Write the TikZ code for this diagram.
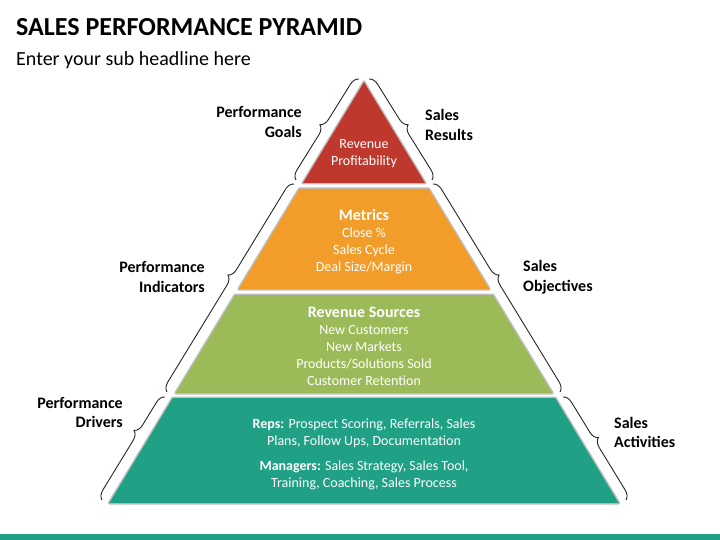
\documentclass[tikz,border=0pt]{standalone}
\usepackage{fontspec}
\setmainfont{Carlito}
\usetikzlibrary{decorations.pathreplacing}
\definecolor{pred}{RGB}{190,56,46}
\definecolor{porange}{RGB}{242,157,42}
\definecolor{pgreen}{RGB}{155,187,89}
\definecolor{pteal}{RGB}{32,161,134}
\begin{document}
\begin{tikzpicture}[x=1pt,y=-1pt,
  layer/.style={preaction={draw=black!25,line width=3pt,line join=round}},
  brc/.style={decorate,decoration={brace,amplitude=9pt,aspect=#1},draw=black!85,line width=0.9pt},
  brc/.default=0.5,
  side/.style={font=\fontsize{16}{19.5}\selectfont\bfseries,inner sep=0pt},
  inner/.style={text=white,align=center,font=\fontsize{14}{17}\selectfont,inner sep=0pt}]
\useasboundingbox (0,0) rectangle (720,540);
% title
\node[anchor=base west,inner sep=0pt,font=\fontsize{26}{30}\selectfont\bfseries] (title) at (16,36) {SALES PERFORMANCE PYRAMID};
\node[anchor=base west,inner sep=0pt,font=\fontsize{20}{24}\selectfont] (sub) at (16,66) {Enter your sub headline here};
% layers
\fill[pred,layer] (364,82) -- (425.1,183) -- (302.9,183) -- cycle;
\fill[porange,layer] (299.3,189) -- (428.7,189) -- (489.2,289) -- (238.8,289) -- cycle;
\fill[pgreen,layer] (235.1,295) -- (492.9,295) -- (552.2,393) -- (175.8,393) -- cycle;
\fill[pteal,layer] (172.8,398) -- (555.2,398) -- (618.7,503) -- (109.3,503) -- cycle;
% layer texts
\node[inner] (t1) at (364,153.5) {Revenue\\Profitability};
\node[inner] (t2) at (364,242) {{\fontsize{16}{17}\selectfont\bfseries Metrics}\\Close \%\\Sales Cycle\\Deal Size/Margin};
\node[inner] (t3) at (364,346) {{\fontsize{16}{17}\selectfont\bfseries Revenue Sources}\\New Customers\\New Markets\\Products/Solutions Sold\\Customer Retention};
\node[inner] (t4) at (364,454.5) {\textbf{Reps:} Prospect Scoring, Referrals, Sales\\Plans, Follow Ups, Documentation\\[8pt]\textbf{Managers:} Sales Strategy, Sales Tool,\\Training, Coaching, Sales Process};
% brace coordinates
\coordinate (l1a) at (296,180); \coordinate (l1b) at (359,79);
\coordinate (r1a) at (369,79); \coordinate (r1b) at (432,180);
\coordinate (l2a) at (167,392); \coordinate (l2b) at (294,184);
\coordinate (r2a) at (433,184); \coordinate (r2b) at (560,392);
\coordinate (l3a) at (102,500); \coordinate (l3b) at (165,397);
\coordinate (r3a) at (563,397); \coordinate (r3b) at (626,500);
\draw[brc=0.5] (l1a) -- (l1b);
\draw[brc=0.5] (r1a) -- (r1b);
\draw[brc=0.54] (l2a) -- (l2b);
\draw[brc=0.46] (r2a) -- (r2b);
\draw[brc=0.63] (l3a) -- (l3b);
\draw[brc=0.44] (r3a) -- (r3b);
% side labels
\node[side,anchor=east,align=right] (pg) at (302,122) {Performance\\Goals};
\node[side,anchor=west,align=left] (sr) at (425,125) {Sales\\Results};
\node[side,anchor=east,align=right] (pi) at (205,277) {Performance\\Indicators};
\node[side,anchor=west,align=left] (so) at (523,277) {Sales\\Objectives};
\node[side,anchor=east,align=right] (pd) at (123,412.5) {Performance\\Drivers};
\node[side,anchor=west,align=left] (sa) at (614,432.5) {Sales\\Activities};
% bottom bar
\fill[pteal] (0,534) rectangle (720,540);
\end{tikzpicture}
\end{document}
